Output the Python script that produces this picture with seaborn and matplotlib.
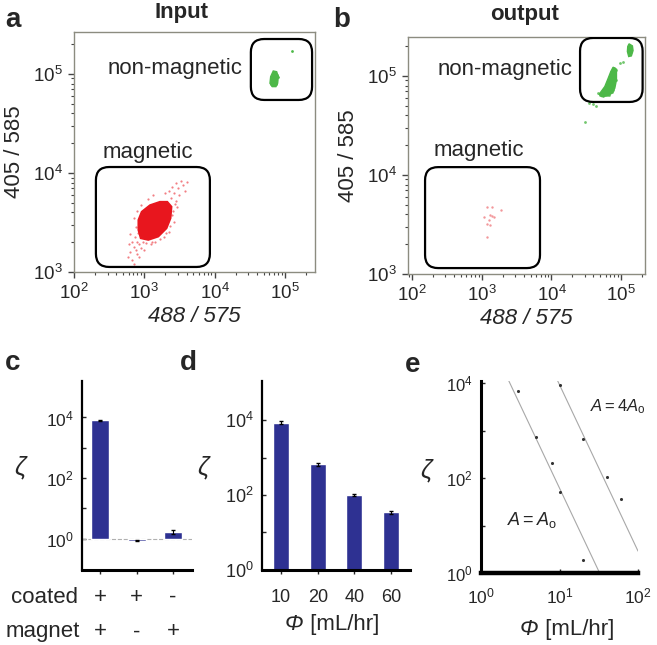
import numpy as np
import pandas as pd
import matplotlib
matplotlib.use("Agg")
import matplotlib.pyplot as plt
import seaborn as sns
from matplotlib.patches import FancyBboxPatch
from matplotlib.ticker import FixedLocator, LogLocator, LogFormatterMathtext, NullFormatter
from matplotlib.transforms import blended_transform_factory

sns.set_style("ticks")
plt.rcParams['font.family'] = ['Liberation Sans', 'DejaVu Sans']
plt.rcParams['mathtext.fontset'] = 'custom'
plt.rcParams['mathtext.rm'] = 'Liberation Sans'
plt.rcParams['mathtext.it'] = 'Liberation Sans:italic'
plt.rcParams['mathtext.bf'] = 'Liberation Sans:bold'
plt.rcParams['mathtext.default'] = 'regular'

# ---------------- data ----------------
# panel a (input): dense magnetic core outline + sparse red events + green events
a_core_x = [916, 1205, 1671, 2128, 2449, 2371, 2080, 1585, 1140, 887, 822, 822]
a_core_y = [4064, 4742, 5129, 5129, 4571, 3483, 2761, 2275, 2104, 2188, 2655, 3350]
a_red_x = [589, 631, 676, 708, 661, 759, 794, 741, 832, 891, 631, 603, 955, 1000, 851, 724,
           759, 724, 794, 891, 1122, 1318, 2512, 2630, 2239, 1905, 1413, 1259,
           2399, 2630, 2818, 3020, 3162, 2818, 3311, 3548, 4074, 3802, 2512, 2239, 2951, 1995,
           780, 820, 860, 1050, 1300, 1700, 2050, 2300, 2550, 2700]
a_red_y = [1413, 1585, 1318, 1778, 1995, 1660, 1514, 2239, 1905, 1738, 2399, 1905, 1995, 1660, 1413, 1202,
           2818, 3548, 4169, 4786, 5495, 6026, 3802, 3162, 2512, 2239, 1995, 1905,
           5623, 6310, 5248, 7079, 6026, 7943, 8318, 7586, 8128, 6607, 7244, 6607, 4571, 6310,
           2000, 2450, 3000, 1950, 2000, 2150, 2500, 2900, 4100, 4900]
a_green_core_x = [68400, 76400, 80600, 78900, 74600, 66200, 61400, 62800]
a_green_core_y = [107200, 105400, 94000, 80500, 74500, 74500, 80500, 94000]
a_green_x = [66000, 74000, 72000, 76000, 78000, 80000, 63000, 126000]
a_green_y = [78000, 80000, 86000, 88000, 98000, 93000, 80000, 170000]

# panel b (output)
b_red_x = [1191, 1403, 1888, 1300, 1403, 1483, 1069, 1259, 1191, 1300, 1167]
b_red_y = [4721, 4786, 4426, 3945, 3855, 3793, 3741, 3508, 3177, 3148, 2382]
b_green_core_x = [76700, 85700, 85700, 81100, 75200, 65200, 52400, 48400, 58300, 65200, 71100]
b_green_core_y = [122500, 116900, 91200, 75200, 67900, 62800, 61900, 65300, 78100, 94800, 110700]
b_green_top_x = [130000, 145200, 148300, 140300, 128500, 123000, 124500]
b_green_top_y = [210900, 201000, 180300, 159200, 157000, 176200, 198200]
b_green_x = [78500, 84000, 75200, 81100, 70300, 76700, 84000, 65200, 72800, 79400, 61700, 68900,
             75200, 58300, 65200, 72800, 54100, 60400, 67300, 49500, 55300, 46900, 76700, 71100,
             106700, 95700, 34900, 38900, 43500, 30300]
b_green_y = [119700, 115100, 106400, 102300, 98600, 94800, 91200, 91200, 85700, 84400, 81100, 78100,
             76900, 73500, 71100, 69500, 66800, 65900, 64400, 64400, 62800, 66800, 72300, 110700,
             139600, 134300, 53800, 52200, 49800, 34600]

# panel c
c_coated = ["+", "+", "-"]
c_magnet = ["+", "-", "+"]
c_values = [8000, 0.85, 1.7]
c_err = [500, 0.04, 0.25]

# panel d
d_flow = ["10", "20", "40", "60"]
d_values = [8500, 660, 100, 35]
d_err = [700, 60, 8, 3]

# panel e
e_flow_1 = [3, 5, 8, 10, 20]
e_zeta_1 = [7000, 730, 214, 50, 1.9]
e_flow_4 = [10, 20, 40, 60]
e_zeta_4 = [9200, 672, 105, 36.7]
e_fit1_x = [2.2, 32]
e_fit1_y = [12400, 1.05]
e_fit4_x = [9.4, 100]
e_fit4_y = [11600, 2.9]

RED = "#E8161E"
PINK = "#F2979A"
GREEN = "#4DB848"
NAVY = "#2E3192"
FRAME = "#8c8c80"

fig = plt.figure(figsize=(6.57, 6.45), dpi=100)

def flow_axes(rect, xlim, ylim):
    ax = fig.add_axes(rect)
    ax.set_xscale('log'); ax.set_yscale('log')
    ax.set_xlim(*xlim); ax.set_ylim(*ylim)
    ax.xaxis.set_major_locator(FixedLocator([1e2, 1e3, 1e4, 1e5]))
    ax.yaxis.set_major_locator(FixedLocator([1e3, 1e4, 1e5]))
    ax.xaxis.set_major_formatter(LogFormatterMathtext())
    ax.yaxis.set_major_formatter(LogFormatterMathtext())
    ax.xaxis.set_minor_locator(LogLocator(base=10, subs=np.arange(2, 10)))
    ax.yaxis.set_minor_locator(LogLocator(base=10, subs=np.arange(2, 10)))
    ax.xaxis.set_minor_formatter(NullFormatter())
    ax.yaxis.set_minor_formatter(NullFormatter())
    ax.tick_params(which='major', direction='out', length=4, width=1, labelsize=13.5,
                   color='#444444', pad=4)
    ax.tick_params(which='minor', direction='out', length=2, width=0.8, color='#444444')
    for sp in ax.spines.values():
        sp.set_color(FRAME); sp.set_linewidth(1.0); sp.set_visible(True)
    ax.set_xlabel("488 / 575", fontsize=16, style='italic', labelpad=2)
    ax.set_ylabel("405 / 585", fontsize=16, labelpad=6)
    return ax

def gate(ax, x0, y0, x1, y1):
    p = FancyBboxPatch((x0, y0), x1 - x0, y1 - y0, boxstyle="round,pad=0,rounding_size=0.055",
                       transform=ax.transAxes, fill=False, ec='black', lw=1.6, zorder=5)
    ax.add_patch(p)

# ---- panel a ----
axa = flow_axes([0.1126, 0.5783, 0.3668, 0.372], (1e2, 2.68e5), (1e3, 2.65e5))
axa.fill(a_core_x, a_core_y, facecolor=RED, edgecolor=RED, lw=1.2, zorder=2)
sns.scatterplot(x=a_red_x, y=a_red_y, ax=axa, color=RED, s=2.5, linewidth=0, alpha=0.55, zorder=3)
axa.fill(a_green_core_x, a_green_core_y, facecolor=GREEN, edgecolor=GREEN, lw=1, zorder=2)
sns.scatterplot(x=a_green_x, y=a_green_y, ax=axa, color=GREEN, s=4, linewidth=0, zorder=3)
gate(axa, 0.091, 0.021, 0.564, 0.4375)
gate(axa, 0.734, 0.717, 0.988, 0.971)
axa.text(0.419, 0.85, "non-magnetic", transform=axa.transAxes, fontsize=16, ha='center', va='center')
axa.text(0.307, 0.50, "magnetic", transform=axa.transAxes, fontsize=16, ha='center', va='center')

# ---- panel b ----
axb = flow_axes([0.621, 0.5752, 0.3607, 0.3674], (87, 2.2e5), (1e3, 2.47e5))
sns.scatterplot(x=b_red_x, y=b_red_y, ax=axb, color=PINK, s=3, linewidth=0, zorder=3)
axb.fill(b_green_core_x, b_green_core_y, facecolor=GREEN, edgecolor=GREEN, lw=1, zorder=2)
axb.fill(b_green_top_x, b_green_top_y, facecolor=GREEN, edgecolor=GREEN, lw=1, zorder=2)
sns.scatterplot(x=b_green_x, y=b_green_y, ax=axb, color=GREEN, s=4, linewidth=0, alpha=0.8, zorder=3)
gate(axb, 0.072, 0.025, 0.557, 0.451)
gate(axb, 0.726, 0.726, 0.99, 0.996)
axb.text(0.411, 0.865, "non-magnetic", transform=axb.transAxes, fontsize=16, ha='center', va='center')
axb.text(0.297, 0.523, "magnetic", transform=axb.transAxes, fontsize=16, ha='center', va='center')

def simple_axes(rect, lw_left, lw_bottom):
    ax = fig.add_axes(rect)
    sns.despine(ax=ax)
    ax.spines['left'].set_linewidth(lw_left)
    ax.spines['bottom'].set_linewidth(lw_bottom)
    ax.spines['left'].set_color('black')
    ax.spines['bottom'].set_color('black')
    return ax

def log_y(ax, ylim, labelsize):
    ax.set_yscale('log')
    ax.set_ylim(*ylim)
    ax.yaxis.set_major_locator(FixedLocator([1, 1e2, 1e4]))
    ax.yaxis.set_major_formatter(LogFormatterMathtext())
    ax.yaxis.set_minor_locator(FixedLocator([10, 1e3]))
    ax.yaxis.set_minor_formatter(NullFormatter())
    ax.tick_params(axis='y', which='both', direction='in', length=3, width=1, labelsize=labelsize, pad=6)
    ax.set_ylabel("ζ", fontsize=18, style='italic', rotation=0, va='center', ha='center')

def phi_label(ax, x_left, y_base, fontsize=16):
    t1 = ax.text(x_left, y_base, "Φ", transform=ax.transAxes, fontsize=fontsize,
                 style='italic', ha='left', va='baseline')
    ax.annotate(" [mL/hr]", xy=(1, 0), xycoords=t1, fontsize=fontsize, ha='left', va='bottom')

# ---- panel c ----
axc = simple_axes([0.1248, 0.1163, 0.1674, 0.293], 1.6, 2.2)
c_pos = np.arange(len(c_values))
axc.axhline(1, color='#b0b0b0', ls='--', lw=0.8, zorder=1)
axc.bar(c_pos, np.array(c_values) - 1, bottom=1, width=0.5, color=NAVY, zorder=2)
axc.errorbar(c_pos, c_values, yerr=c_err, fmt='none', ecolor='black', elinewidth=0.8, capsize=1.5, zorder=3)
log_y(axc, (0.093, 1.6e5), 12.5)
axc.set_xlim(-0.5, 2.52)
axc.set_xticks(c_pos)
axc.set_xticklabels([])
axc.tick_params(axis='x', direction='out', length=3, width=1)
axc.yaxis.set_label_coords(-0.56, 0.545)
tr = blended_transform_factory(axc.transData, axc.transAxes)
for i in range(len(c_values)):
    axc.text(c_pos[i], -0.143, c_coated[i], transform=tr, fontsize=16, ha='center', va='center')
    axc.text(c_pos[i], -0.328, c_magnet[i], transform=tr, fontsize=16, ha='center', va='center')
axc.text(-0.036, -0.143, "coated", transform=axc.transAxes, fontsize=16, ha='right', va='center')
axc.text(-0.02, -0.328, "magnet", transform=axc.transAxes, fontsize=16, ha='right', va='center')

# ---- panel d ----
axd = simple_axes([0.3988, 0.1163, 0.2253, 0.293], 1.6, 2.2)
sns.barplot(x=d_flow, y=d_values, ax=axd, color=NAVY, saturation=1, width=0.44, errorbar=None, zorder=2)
axd.errorbar(np.arange(len(d_values)), d_values, yerr=d_err, fmt='none', ecolor='black',
             elinewidth=0.8, capsize=1.5, zorder=3)
log_y(axd, (1, 1.1e5), 13)
axd.set_xlim(-0.52, 3.52)
axd.tick_params(axis='x', direction='out', length=3, width=1, labelsize=13, pad=11)
axd.set_xlabel("")
phi_label(axd, 0.155, -0.317)
axd.yaxis.set_label_coords(-0.40, 0.545)

# ---- panel e ----
axe = simple_axes([0.7321, 0.1116, 0.239, 0.2977], 2.2, 3.2)
sns.lineplot(x=e_fit1_x, y=e_fit1_y, ax=axe, color='#a8a8a8', lw=0.8)
sns.lineplot(x=e_fit4_x, y=e_fit4_y, ax=axe, color='#a8a8a8', lw=0.8)
sns.scatterplot(x=e_flow_1, y=e_zeta_1, ax=axe, color='#333333', s=5, linewidth=0, zorder=3)
sns.scatterplot(x=e_flow_4, y=e_zeta_4, ax=axe, color='#333333', s=5, linewidth=0, zorder=3)
axe.set_xscale('log')
axe.set_xlim(1, 100)
axe.xaxis.set_major_locator(FixedLocator([1, 10, 100]))
axe.xaxis.set_major_formatter(LogFormatterMathtext())
axe.xaxis.set_minor_locator(FixedLocator([]))
log_y(axe, (1, 1.12e4), 12)
axe.tick_params(axis='x', direction='in', length=3, width=1, labelsize=12.5, pad=10)
axe.set_xlabel("")
phi_label(axe, 0.248, -0.323)
axe.yaxis.set_label_coords(-0.35, 0.536)
axe.text(0.87, 0.865, r"$\mathit{A} = 4\mathit{A}_{\mathrm{o}}$", transform=axe.transAxes,
         fontsize=12, ha='center', va='center')
axe.text(0.325, 0.276, r"$\mathit{A} = \mathit{A}_{\mathrm{o}}$", transform=axe.transAxes,
         fontsize=13, ha='center', va='center')

# ---- titles and panel letters ----
fig.text(0.2755, 0.980, "Input", fontsize=16, fontweight='bold', ha='center', va='center')
fig.text(0.799, 0.977, "output", fontsize=16, fontweight='bold', ha='center', va='center')
for lab, x, y in [("a", 0.0076, 0.958), ("b", 0.507, 0.958), ("c", 0.0076, 0.426),
                  ("d", 0.274, 0.426), ("e", 0.616, 0.423)]:
    fig.text(x, y, lab, fontsize=20, fontweight='bold', ha='left', va='baseline')

fig.savefig("out.png", dpi=100)
